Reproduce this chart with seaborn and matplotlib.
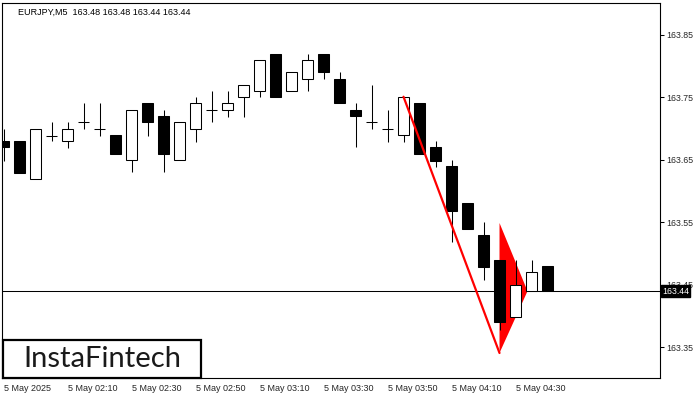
import numpy as np
import pandas as pd
import seaborn as sns
import matplotlib.pyplot as plt

# EURJPY M5 candles, 01:50 .. 04:40
opens = [163.680, 163.680, 163.620, 163.689, 163.680, 163.711, 163.699, 163.690, 163.650, 163.741,
         163.720, 163.650, 163.699, 163.729, 163.729, 163.750, 163.760, 163.820, 163.760, 163.779,
         163.820, 163.779, 163.729, 163.710, 163.699, 163.690, 163.741, 163.671, 163.640, 163.581,
         163.530, 163.490, 163.399, 163.440, 163.480]
highs = [163.700, 163.680, 163.700, 163.711, 163.711, 163.741, 163.741, 163.690, 163.730, 163.741,
         163.730, 163.711, 163.751, 163.760, 163.760, 163.770, 163.810, 163.820, 163.790, 163.820,
         163.820, 163.790, 163.741, 163.770, 163.729, 163.750, 163.741, 163.680, 163.650, 163.581,
         163.550, 163.490, 163.490, 163.490, 163.480]
lows = [163.648, 163.629, 163.620, 163.680, 163.669, 163.700, 163.689, 163.659, 163.630, 163.689,
        163.630, 163.650, 163.679, 163.710, 163.719, 163.719, 163.750, 163.750, 163.760, 163.760,
        163.779, 163.741, 163.670, 163.699, 163.679, 163.679, 163.659, 163.639, 163.519, 163.539,
        163.458, 163.378, 163.399, 163.440, 163.440]
closes = [163.671, 163.629, 163.700, 163.689, 163.700, 163.711, 163.699, 163.659, 163.730, 163.710,
          163.659, 163.711, 163.741, 163.729, 163.741, 163.770, 163.810, 163.750, 163.790, 163.810,
          163.790, 163.741, 163.720, 163.710, 163.699, 163.750, 163.659, 163.649, 163.569, 163.539,
          163.479, 163.390, 163.450, 163.470, 163.440]

tick_pos = [0, 4, 8, 12, 16, 20, 24, 28, 32]
tick_labels = ["5 May 2025", "5 May 02:10", "5 May 02:30", "5 May 02:50", "5 May 03:10",
               "5 May 03:30", "5 May 03:50", "5 May 04:10", "5 May 04:30"]
price_ticks = [163.35, 163.45, 163.55, 163.65, 163.75, 163.85]
last_price = 163.44

# bearish pennant: pole and flag
pole_x = [25, 31]
pole_y = [163.751, 163.341]
flag_x = [31, 32.75, 31]
flag_y = [163.549, 163.44, 163.341]

df = pd.DataFrame({"o": opens, "h": highs, "l": lows, "c": closes})
df["x"] = np.arange(len(df))

sns.set_theme(style="white")
plt.rcParams['font.family'] = ['Liberation Sans', 'DejaVu Sans']

fig = plt.figure(figsize=(7, 4), dpi=100)
ax = fig.add_axes([2/700, 22/400, 658/700, 375/400])

w = 0.69
lw = 0.75
ax.fill(flag_x, flag_y, color="red", linewidth=0, zorder=1.5)
ax.vlines(df["x"], df["l"], df["h"], color="black", linewidth=lw, zorder=2)
for _, r in df.iterrows():
    if abs(r.c - r.o) < 1e-6:
        ax.hlines(r.o, r.x - w/2, r.x + w/2, color="black", linewidth=lw, zorder=3)
    else:
        fc = "white" if r.c > r.o else "black"
        ax.bar(r.x, abs(r.c - r.o), bottom=min(r.o, r.c), width=w, color=fc,
               edgecolor="black", linewidth=lw, zorder=3)

ax.axhline(last_price, color="black", linewidth=lw, zorder=1)

sns.lineplot(x=pole_x, y=pole_y, color="red", linewidth=1.6, ax=ax, zorder=4)

ax.set_xlim(-0.094, 41.03)
ax.set_ylim(163.301, 163.901)

ax.set_xticks(tick_pos)
ax.set_xticklabels(tick_labels, ha="left", fontsize=6.5)
ax.set_yticks(price_ticks)
ax.set_yticklabels([f"{p:.2f}" for p in price_ticks], fontsize=6.3)
ax.yaxis.tick_right()
ax.tick_params(axis="both", direction="out", length=3, width=0.75, color="black", pad=1.5)
for s in ax.spines.values():
    s.set_color("black")
    s.set_linewidth(0.8)

# current price tag
ax.text(1.003, last_price, "163.44", transform=ax.get_yaxis_transform(), ha="left", va="center",
        fontsize=6.3, color="white", zorder=10, clip_on=False,
        bbox=dict(boxstyle="square,pad=0.15", facecolor="black", edgecolor="black"))

fig.text(18/700, 1 - 12/400, "EURJPY,M5  163.48 163.48 163.44 163.44", fontsize=6.5,
         va="center", ha="left", color="black")

# logo box
logo = plt.Rectangle((3/700, 22/400), 198/700, 38/400, transform=fig.transFigure,
                     facecolor="white", edgecolor="black", linewidth=1.6, zorder=20)
fig.add_artist(logo)
fig.text(102/700, 1 - 359/400, "InstaFintech", fontsize=21, ha="center", va="center",
         color="#1a1a1a", family=["Lato", "DejaVu Sans"], zorder=21)

fig.savefig("out.png", dpi=100)
